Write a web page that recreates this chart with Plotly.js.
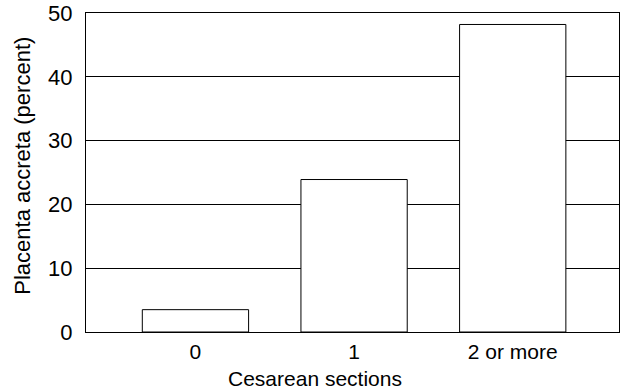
<!DOCTYPE html>
<html>
<head>
<meta charset="utf-8">
<script src="https://cdn.plot.ly/plotly-3.0.1.min.js"></script>
<style>html,body{margin:0;padding:0;background:#fff;}#chart{width:624px;height:392px;}</style>
</head>
<body>
<div id="chart"></div>
<script>
const categories = ["0", "1", "2 or more"];
const positions = [0, 1, 2];
const accretaPercent = [3.5, 23.9, 48.2];
const yTicks = [0, 10, 20, 30, 40, 50];

const font = "Liberation Sans, Arial, Helvetica, sans-serif";

const trace = {
  type: "bar",
  x: positions,
  y: accretaPercent,
  width: 0.67,
  marker: {color: "#ffffff", line: {color: "#000000", width: 1}},
  hoverinfo: "none"
};

const layout = {
  width: 624, height: 392,
  margin: {l: 86, r: 5, t: 13, b: 60},
  paper_bgcolor: "#ffffff",
  plot_bgcolor: "#ffffff",
  showlegend: false,
  font: {family: font, size: 22, color: "#000000"},
  xaxis: {
    range: [-0.69, 2.67],
    tickvals: positions,
    ticktext: categories,
    showgrid: false,
    zeroline: false,
    showline: true, mirror: true, linecolor: "#000000", linewidth: 1,
    ticks: "", ticklabelstandoff: 1,
    tickfont: {family: font, size: 21, color: "#000000"}
  },
  yaxis: {
    range: [0, 50],
    tickvals: yTicks,
    showgrid: true, gridcolor: "#000000", gridwidth: 1,
    zeroline: false,
    showline: true, mirror: true, linecolor: "#000000", linewidth: 1,
    ticks: "", ticklabelstandoff: 8,
    tickfont: {family: font, size: 22, color: "#000000"}
  },
  annotations: [
    {text: "Cesarean sections", xref: "paper", yref: "paper", x: 0.429, y: -0.147,
     xanchor: "center", yanchor: "middle", showarrow: false,
     font: {family: font, size: 21, color: "#000000"}},
    {text: "Placenta accreta (percent)", xref: "paper", yref: "paper", x: -0.119, y: 0.52,
     xanchor: "center", yanchor: "middle", textangle: -90, showarrow: false,
     font: {family: font, size: 22, color: "#000000"}}
  ]
};

Plotly.newPlot("chart", [trace], layout, {staticPlot: true, displayModeBar: false});
</script>
</body>
</html>
